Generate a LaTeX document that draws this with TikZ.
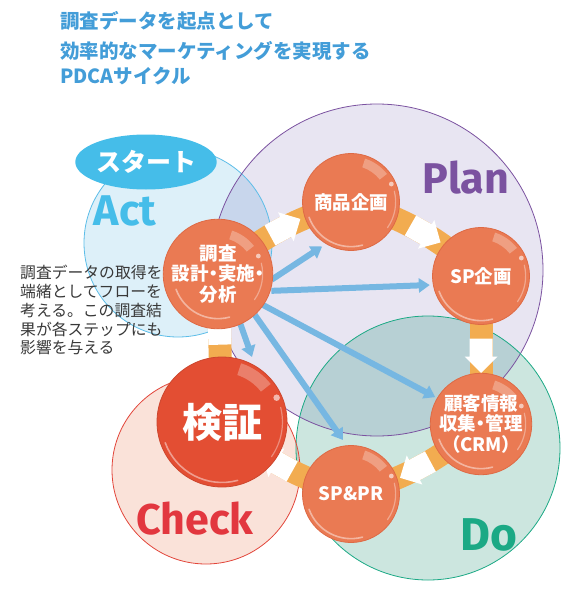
\documentclass[tikz,border=0pt]{standalone}
\usepackage{fontspec}
\newfontfamily\jp{Noto Sans CJK JP}
\newfontfamily\lat{Fira Sans}
\usetikzlibrary{shapes.geometric,shapes.arrows,arrows.meta,calc}
\definecolor{titleblue}{HTML}{439DD8}
\definecolor{actblue}{HTML}{45BDE9}
\definecolor{actfill}{HTML}{DDF0F9}
\definecolor{actline}{HTML}{5CBDE8}
\definecolor{planfill}{HTML}{E8E5F2}
\definecolor{planline}{HTML}{7B52A0}
\definecolor{dofill}{HTML}{CCE6DF}
\definecolor{doline}{HTML}{1BA985}
\definecolor{checkfill}{HTML}{FAE2D9}
\definecolor{checkline}{HTML}{E2453A}
\definecolor{checktext}{HTML}{E2373F}
\definecolor{apfill}{HTML}{C8D6EC}
\definecolor{pdfill}{HTML}{B7D0D4}
\definecolor{cdfill}{HTML}{C8CCBE}
\definecolor{ballor}{HTML}{EA7A53}
\definecolor{ballred}{HTML}{E34E33}
\definecolor{balledge}{HTML}{DE6A45}
\definecolor{ringor}{HTML}{F2AC50}
\definecolor{arrowblue}{HTML}{76B7E2}
\definecolor{notegray}{HTML}{383838}
\pgfdeclarelayer{back}
\pgfdeclarelayer{mid}
\pgfsetlayers{back,mid,main}
\newcommand\ballgloss[2]{%
  \fill[white,opacity=0.28] ($(#1.center)+(38:{0.95*#2pt})$) arc[start angle=38,end angle=72,radius={0.95*#2pt}]
    -- ($(#1.center)+(72:{0.76*#2pt})$) arc[start angle=72,end angle=38,radius={0.76*#2pt}] -- cycle;
  \fill[white,opacity=0.6] ($(#1.center)+(24:{0.92*#2pt})$) circle[radius={0.05*#2pt}];
  \draw[white,opacity=0.45,line width=1.6pt,line cap=round] ($(#1.center)+(200:{0.93*#2pt})$) arc[start angle=200,end angle=285,radius={0.93*#2pt}];
  \draw[white,opacity=0.35,line width=1.2pt,line cap=round] ($(#1.center)+(14:{0.93*#2pt})$) arc[start angle=14,end angle=-35,radius={0.93*#2pt}];
}
\tikzset{
  ball/.style={circle,inner sep=0pt,outer sep=0pt,fill=ballor,draw=balledge,line width=0.8pt,
    text=white,align=center,minimum size=97pt,
    font=\jp\bfseries\addfontfeatures{RawFeature=+palt}\fontsize{18.5}{20.5}\selectfont},
  ringseg/.style={draw=ringor,line width=23pt},
  wa/.style={single arrow,fill=white,draw=none,inner sep=0pt,minimum height=24pt,minimum width=23pt,
    single arrow head extend=5pt,single arrow tip angle=90,rotate=#1},
  barrow/.style={draw=arrowblue,line width=6pt,-{Triangle[length=11pt,width=14pt]}},
  biglabel/.style={font=\lat\bfseries\fontsize{43}{43}\selectfont,anchor=base,inner sep=0pt},
  titleline/.style={font=\jp\bfseries\fontsize{19.5}{19.5}\selectfont,text=titleblue,anchor=base west,inner sep=0pt},
  noteline/.style={font=\jp\fontsize{15.8}{15.8}\selectfont,text=notegray,anchor=base west,inner sep=0pt},
}
\begin{document}
\begin{tikzpicture}[x=1pt,y=-1pt]
\useasboundingbox (0,0) rectangle (576,594);
% phase circles
\begin{pgfonlayer}{back}
  \fill[actfill] (178,243) circle[radius=94pt];
  \fill[planfill] (377,270) circle[radius=166pt];
  \fill[dofill] (428,448) circle[radius=132pt];
  \fill[checkfill] (206,470) circle[radius=94pt];
  \begin{scope}
    \clip (178,243) circle[radius=94pt];
    \fill[apfill] (377,270) circle[radius=166pt];
  \end{scope}
  \begin{scope}
    \clip (377,270) circle[radius=166pt];
    \fill[pdfill] (428,448) circle[radius=132pt];
  \end{scope}
  \begin{scope}
    \clip (206,470) circle[radius=94pt];
    \fill[cdfill] (428,448) circle[radius=132pt];
  \end{scope}
  \draw[actline,line width=0.8pt] (178,243) circle[radius=94pt];
  \draw[planline,line width=0.8pt] (377,270) circle[radius=166pt];
  \draw[doline,line width=0.8pt] (428,448) circle[radius=132pt];
  \draw[checkline,line width=0.8pt] (206,470) circle[radius=94pt];
\end{pgfonlayer}

% title
\node[titleline] (t1) at (60,29) {調査データを起点として};
\node[titleline] (t2) at (60,58.5) {効率的なマーケティングを実現する};
\node[titleline] (t3) at (60,83) {PDCAサイクル};

% phase labels
\node[ellipse,fill=actblue,minimum width=123pt,minimum height=55pt,inner sep=0pt,text=white,
  font=\jp\bfseries\fontsize{25}{25}\selectfont] (start) at (146,162) {\raisebox{2pt}{スタート}};
\node[biglabel,text=actblue] (act) at (125,225) {Act};
\node[biglabel,text=planline] (plan) at (466,193) {Plan};
\node[biglabel,text=doline,font=\lat\bfseries\fontsize{46}{46}\selectfont] (do) at (489,550) {Do};
\node[biglabel,text=checktext] (check) at (195,534) {Check};

% note
\node[noteline] (n1) at (20,278) {調査データの取得を};
\node[noteline] (n2) at (20,297) {端緒としてフローを};
\node[noteline] (n3) at (20,316) {考える。この調査結};
\node[noteline] (n4) at (20,335) {果が各ステップにも};
\node[noteline] (n5) at (20,353.5) {影響を与える};

% balls
\node[ball] (chousa) at (218,274) {調査\\設計・実施・\\分析};
\node[ball] (shohin) at (351,202) {商品企画};
\node[ball] (spk) at (481,276) {SP企画};
\node[ball] (crm) at (481,424) {顧客情報\\収集・管理\\（CRM）};
\node[ball] (sppr) at (351,494) {SP\&PR};
\node[ball,fill=ballred,draw=ballred!90!black,minimum size=130pt,
  font=\jp\bfseries\fontsize{40}{40}\selectfont] (kensho) at (222,422) {検証};
\ballgloss{chousa}{48}
\ballgloss{shohin}{48}
\ballgloss{spk}{48}
\ballgloss{crm}{48}
\ballgloss{sppr}{48}
\ballgloss{kensho}{65}

% ring and arrows
\begin{pgfonlayer}{mid}
  \draw[ringseg] (chousa.center) to[bend left=12] node[wa=28.4]{} (shohin.center);
  \draw[ringseg] (shohin.center) to[bend left=12] node[wa=-29.6]{} (spk.center);
  \draw[ringseg] (spk.center) -- node[wa=-90]{} (crm.center);
  \draw[ringseg] (crm.center) to[bend left=12] node[wa=-151.7]{} (sppr.center);
  \draw[ringseg] (sppr.center) to[bend left=12] node[wa=150.8]{} (kensho.center);
  \draw[ringseg] (kensho.center) -- node[wa=91.5,pos=0.6]{} (chousa.center);
  \draw[barrow] ($(chousa.center)+(-6:54pt)$) -- ($(shohin.center)+(-123:53pt)$);
  \draw[barrow] ($(chousa.center)+(-17.5:56pt)$) -- ($(spk.center)+(-170:52pt)$);
  \draw[barrow] ($(chousa.center)+(-34.6:54pt)$) -- ($(crm.center)+(149.6:53pt)$);
  \draw[barrow] ($(chousa.center)+(-48:55pt)$) -- ($(sppr.center)+(98.4:54.6pt)$);
  \draw[barrow] ($(chousa.center)+(-65.8:54pt)$) -- ($(kensho.center)+(65.2:71.6pt)$);
\end{pgfonlayer}
\end{tikzpicture}
\end{document}
